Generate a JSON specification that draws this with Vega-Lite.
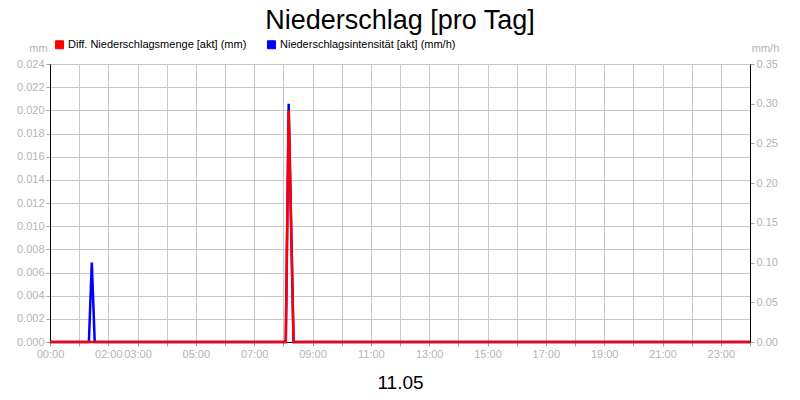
{
  "$schema": "https://vega.github.io/schema/vega-lite/v6.json",
  "width": 700,
  "height": 278,
  "autosize": "none",
  "padding": {"left": 50, "top": 64, "right": 50, "bottom": 58},
  "background": "white",
  "title": {
    "text": "Niederschlag [pro Tag]",
    "anchor": "middle",
    "frame": "group",
    "fontSize": 27,
    "fontWeight": "normal",
    "font": "Liberation Sans",
    "color": "black",
    "offset": 4
  },
  "config": {
    "font": "Liberation Sans",
    "view": {"stroke": "black", "strokeWidth": 1},
    "axis": {
      "labelColor": "#b4b4b4",
      "labelFontSize": 11,
      "labelFont": "Liberation Sans",
      "tickColor": "#a0a0a0",
      "tickSize": 4,
      "domainColor": "black",
      "gridColor": "#c8c8c8",
      "gridOpacity": 1,
      "titleFontWeight": "normal",
      "titleColor": "#b4b4b4",
      "titleFontSize": 11,
      "labelOverlap": false,
      "labelFlush": false
    }
  },
  "data": {
    "values": [
      {"minute": 0, "serie": "Diff. Niederschlagsmenge [akt] (mm)", "wert": 0},
      {"minute": 485, "serie": "Diff. Niederschlagsmenge [akt] (mm)", "wert": 0},
      {"minute": 491, "serie": "Diff. Niederschlagsmenge [akt] (mm)", "wert": 0.02},
      {"minute": 501, "serie": "Diff. Niederschlagsmenge [akt] (mm)", "wert": 0},
      {"minute": 1440, "serie": "Diff. Niederschlagsmenge [akt] (mm)", "wert": 0},
      {"minute": 0, "serie": "Niederschlagsintensität [akt] (mm/h)", "wert": 0},
      {"minute": 80, "serie": "Niederschlagsintensität [akt] (mm/h)", "wert": 0},
      {"minute": 86, "serie": "Niederschlagsintensität [akt] (mm/h)", "wert": 0.1},
      {"minute": 92, "serie": "Niederschlagsintensität [akt] (mm/h)", "wert": 0},
      {"minute": 485, "serie": "Niederschlagsintensität [akt] (mm/h)", "wert": 0},
      {"minute": 491, "serie": "Niederschlagsintensität [akt] (mm/h)", "wert": 0.3},
      {"minute": 501, "serie": "Niederschlagsintensität [akt] (mm/h)", "wert": 0},
      {"minute": 1440, "serie": "Niederschlagsintensität [akt] (mm/h)", "wert": 0}
    ]
  },
  "encoding": {
    "x": {
      "field": "minute",
      "type": "quantitative",
      "scale": {"domain": [0, 1440], "nice": false, "zero": false},
      "axis": {
        "values": [0, 60, 120, 180, 240, 300, 360, 420, 480, 540, 600, 660, 720, 780, 840, 900, 960, 1020, 1080, 1140, 1200, 1260, 1320, 1380, 1440],
        "labelExpr": "indexof([0, 2, 3, 5, 7, 9, 11, 13, 15, 17, 19, 21, 23], datum.value / 60) >= 0 ? (datum.value < 600 ? '0' : '') + (datum.value / 60) + ':00' : ''",
        "title": "11.05",
        "titleFontSize": 19,
        "titleColor": "black",
        "titleBaseline": "alphabetic",
        "titleY": 46,
        "labelPadding": 2,
        "grid": true
      }
    },
    "color": {
      "field": "serie",
      "type": "nominal",
      "scale": {
        "domain": ["Diff. Niederschlagsmenge [akt] (mm)", "Niederschlagsintensität [akt] (mm/h)"],
        "range": ["#ff0000", "#0000ff"]
      },
      "legend": {
        "title": null,
        "orient": "none",
        "direction": "horizontal",
        "legendX": 4,
        "legendY": -25,
        "symbolType": "square",
        "symbolSize": 64,
        "symbolStrokeWidth": 1,
        "labelFontSize": 11,
        "labelColor": "black",
        "labelFont": "Liberation Sans",
        "labelLimit": 400,
        "columnPadding": 18,
        "labelOffset": 3,
        "padding": 0,
        "encode": {
          "symbols": {
            "update": {
              "fill": {"scale": "color", "field": "value"},
              "stroke": {"value": "#202020"},
              "fillOpacity": {"value": 1}
            }
          }
        }
      }
    }
  },
  "layer": [
    {
      "transform": [{"filter": "datum.serie == 'Niederschlagsintensität [akt] (mm/h)'"}],
      "mark": {"type": "line", "strokeWidth": 2.5, "interpolate": "linear"},
      "encoding": {
        "y": {
          "field": "wert",
          "type": "quantitative",
          "scale": {"domain": [0, 0.35], "nice": false},
          "axis": {
            "orient": "right",
            "values": [0, 0.05, 0.1, 0.15, 0.2, 0.25, 0.3, 0.35],
            "format": ".2f",
            "grid": false,
            "title": "mm/h",
            "titleAngle": 0,
            "titleAlign": "center",
            "titleBaseline": "alphabetic",
            "titleX": 15,
            "titleY": -13
          }
        }
      }
    },
    {
      "transform": [{"filter": "datum.serie == 'Diff. Niederschlagsmenge [akt] (mm)'"}],
      "mark": {"type": "line", "strokeWidth": 2.5, "interpolate": "linear"},
      "encoding": {
        "y": {
          "field": "wert",
          "type": "quantitative",
          "scale": {"domain": [0, 0.024], "nice": false},
          "axis": {
            "orient": "left",
            "values": [0, 0.002, 0.004, 0.006, 0.008, 0.01, 0.012, 0.014, 0.016, 0.018, 0.02, 0.022, 0.024],
            "format": ".3f",
            "grid": true,
            "title": "mm",
            "titleAngle": 0,
            "titleAlign": "center",
            "titleBaseline": "alphabetic",
            "titleX": -12,
            "titleY": -13
          }
        }
      }
    }
  ],
  "resolve": {"scale": {"y": "independent"}}
}
